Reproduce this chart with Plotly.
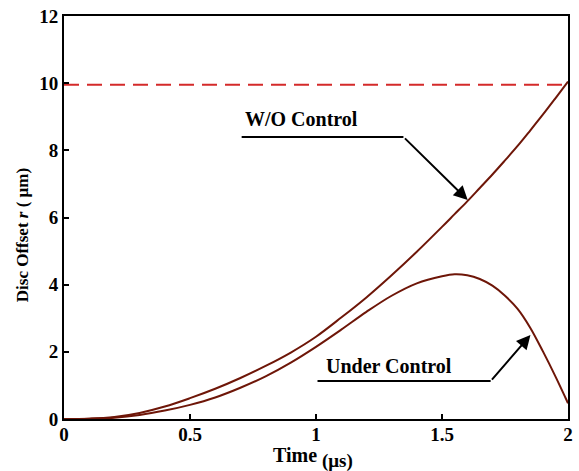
import plotly.graph_objects as go

time_us = [0, 0.1, 0.2, 0.3, 0.4, 0.5, 0.6, 0.7, 0.8, 0.9, 1.0, 1.1, 1.2, 1.3, 1.4,
           1.5, 1.55, 1.6, 1.65, 1.7, 1.75, 1.8, 1.85, 1.9, 1.95, 2.0]
wo_control = [0, 0.01, 0.06, 0.18, 0.37, 0.62, 0.9, 1.22, 1.58, 1.98, 2.45, 3.02, 3.62, 4.28, 4.98,
              5.72, 6.1, 6.48, 6.88, 7.28, 7.7, 8.13, 8.59, 9.06, 9.55, 10.05]
under_control = [0, 0.01, 0.04, 0.12, 0.25, 0.42, 0.64, 0.93, 1.27, 1.68, 2.15, 2.66, 3.19, 3.67, 4.04,
                 4.25, 4.31, 4.28, 4.17, 3.97, 3.67, 3.28, 2.72, 2.02, 1.27, 0.47]
limit_value = 9.95
x_ticks = [0, 0.5, 1, 1.5, 2]
x_tick_labels = ["0", "0.5", "1", "1.5", "2"]
y_ticks = [0, 2, 4, 6, 8, 10, 12]

FONT = "Liberation Serif"
CURVE = "#6e1608"

fig = go.Figure()
fig.add_trace(go.Scatter(x=[0, 2], y=[limit_value, limit_value], mode="lines",
                         line=dict(color="#d42a2a", width=2, dash="15px,8px"),
                         showlegend=False, hoverinfo="skip"))
fig.add_trace(go.Scatter(x=time_us, y=wo_control, mode="lines", line_shape="spline",
                         line=dict(color=CURVE, width=2), showlegend=False, name="W/O Control"))
fig.add_trace(go.Scatter(x=time_us, y=under_control, mode="lines", line_shape="spline",
                         line=dict(color=CURVE, width=2), showlegend=False, name="Under Control"))

# leader lines (horizontal part) and arrows (diagonal part)
leaders = [
    dict(x0=0.705, x1=1.347, y=8.40, tip=(1.602, 6.52)),
    dict(x0=1.006, x1=1.693, y=1.13, tip=(1.851, 2.50)),
]
for ld in leaders:
    fig.add_shape(type="line", xref="x", yref="y", x0=ld["x0"], x1=ld["x1"], y0=ld["y"], y1=ld["y"],
                  line=dict(color="black", width=2))
    fig.add_annotation(x=ld["tip"][0], y=ld["tip"][1], ax=ld["x1"], ay=ld["y"], axref="x", ayref="y",
                       xref="x", yref="y", text="", showarrow=True, arrowhead=2, arrowsize=1.4,
                       arrowwidth=2, arrowcolor="black")

fig.add_annotation(x=0.943, y=8.94, xref="x", yref="y", text="<b>W/O Control</b>", showarrow=False,
                   font=dict(family=FONT, size=20, color="black"))
fig.add_annotation(x=1.291, y=1.59, xref="x", yref="y", text="<b>Under Control</b>", showarrow=False,
                   font=dict(family=FONT, size=20, color="black"))

# axis titles
fig.add_annotation(xref="paper", yref="paper", x=-0.105, y=0.455, textangle=-90,
                   text="<b>Disc Offset <i>r</i> ( μm)</b>", showarrow=False,
                   font=dict(family=FONT, size=17, color="black"))
fig.add_annotation(xref="paper", yref="paper", x=0.459, y=-0.089, yanchor="middle",
                   text="<b>Time</b>", showarrow=False,
                   font=dict(family=FONT, size=20, color="black"))
fig.add_annotation(xref="paper", yref="paper", x=0.542, y=-0.104, yanchor="middle",
                   text="<b>(μs)</b>", showarrow=False,
                   font=dict(family=FONT, size=19, color="black"))

axis_common = dict(showline=True, linecolor="black", linewidth=2, mirror=True, ticks="inside",
                   ticklen=5, tickwidth=1.5, tickcolor="black", showgrid=False, zeroline=False,
                   tickfont=dict(family=FONT, size=19, color="black"))
fig.update_xaxes(range=[0, 2], tickvals=x_ticks, ticktext=["<b>%s</b>" % t for t in x_tick_labels],
                 ticklabelstandoff=-3, **axis_common)
fig.update_yaxes(range=[0, 12], tickvals=y_ticks, ticktext=["<b>%d</b>" % t for t in y_ticks],
                 **axis_common)

fig.update_layout(width=579, height=471, margin=dict(l=64, r=6, t=15, b=52),
                  plot_bgcolor="white", paper_bgcolor="white", showlegend=False)
fig.write_html("out.html")
